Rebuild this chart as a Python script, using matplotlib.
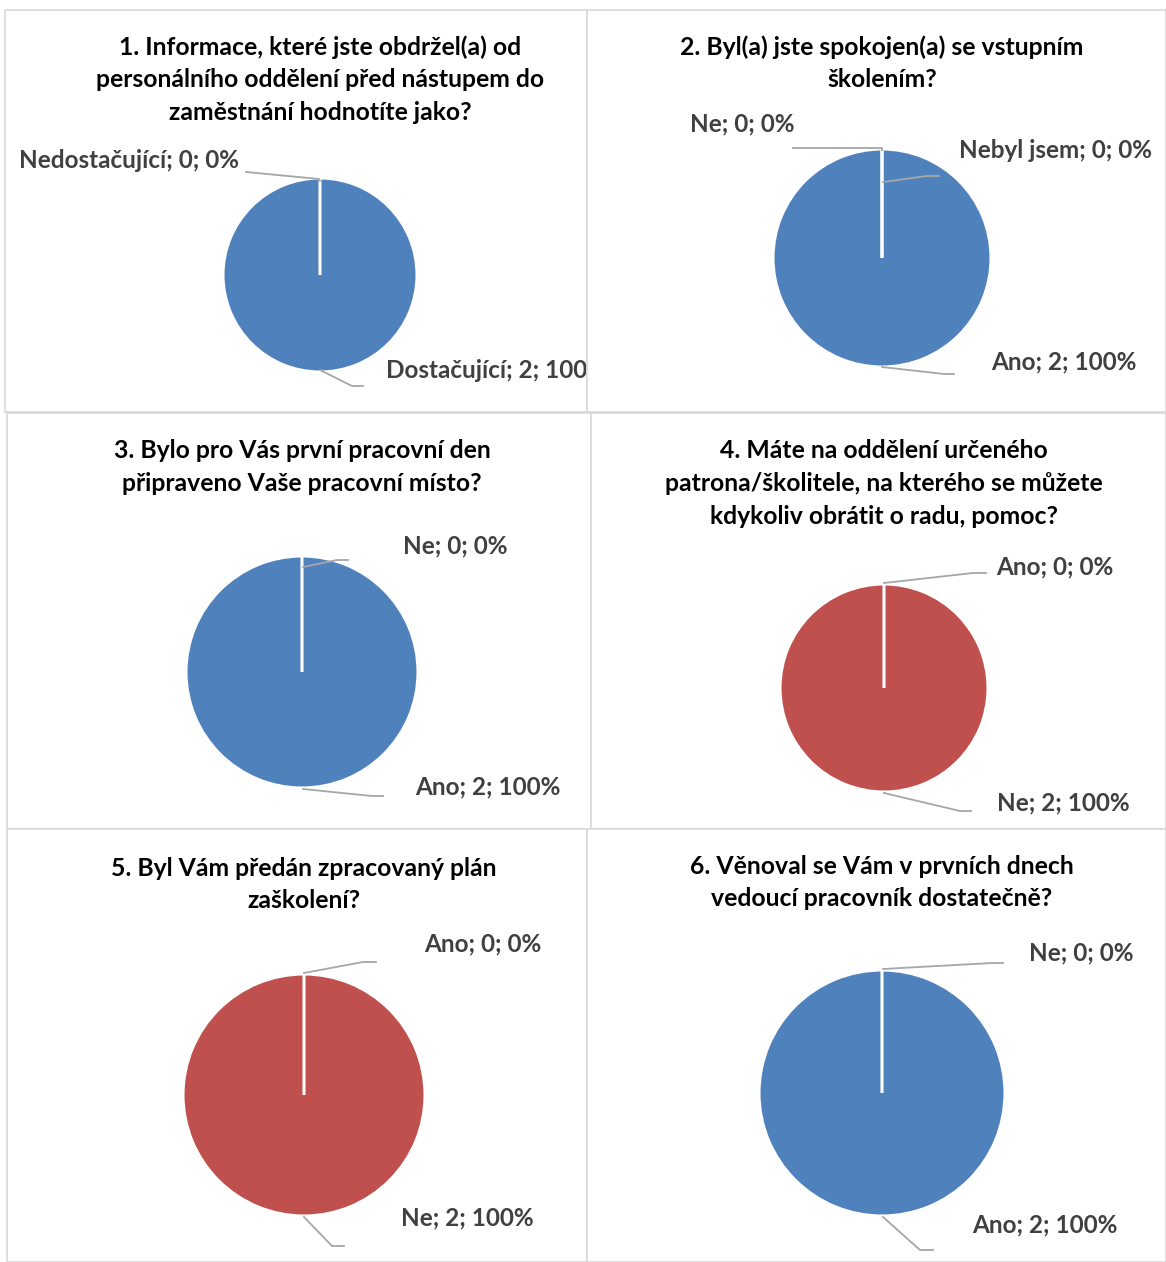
import matplotlib.pyplot as plt
from matplotlib.patches import Rectangle
from matplotlib.transforms import Bbox

plt.rcParams['font.family'] = ['Lato', 'DejaVu Sans']

W, H = 1166, 1262

BLUE = "#4f81bd"
RED = "#c0504d"
LABEL_COLOR = "#404040"
LEADER_COLOR = "#a6a6a6"
BORDER_COLOR = "#d9d9d9"

# survey answers, one list per question
titles = [
    "1. Informace, které jste obdržel(a) od\npersonálního oddělení před nástupem do\nzaměstnání hodnotíte jako?",
    "2. Byl(a) jste spokojen(a) se vstupním\nškolením?",
    "3. Bylo pro Vás první pracovní den\npřipraveno Vaše pracovní místo?",
    "4. Máte na oddělení určeného\npatrona/školitele, na kterého se můžete\nkdykoliv obrátit o radu, pomoc?",
    "5. Byl Vám předán zpracovaný plán\nzaškolení?",
    "6. Věnoval se Vám v prvních dnech\nvedoucí pracovník dostatečně?",
]
q1_cats = ["Dostačující", "Nedostačující"]
q1_vals = [2, 0]
q2_cats = ["Ano", "Ne", "Nebyl jsem"]
q2_vals = [2, 0, 0]
q3_cats = ["Ano", "Ne"]
q3_vals = [2, 0]
q4_cats = ["Ano", "Ne"]
q4_vals = [0, 2]
q5_cats = ["Ano", "Ne"]
q5_vals = [0, 2]
q6_cats = ["Ano", "Ne"]
q6_vals = [2, 0]

# panel box (x0, y0, x1, y1), pie centre/radius, title centre x and first line y,
# and for every category: label position and leader polyline (pixels, y down)
layout = [
    dict(box=(5, 10, 587, 412), center=(320, 275), r=96, title=(320, 47),
         labels={"Nedostačující": ((19, 161), [(320, 181), (319, 179), (246, 172)]),
                 "Dostačující": ((386, 371), [(320, 370), (352, 386), (363, 386)])}),
    dict(box=(587, 10, 1166, 412), center=(882, 258), r=108, title=(882, 47),
         labels={"Ne": ((690, 124), [(882, 150), (882, 148), (793, 148)]),
                 "Nebyl jsem": ((959, 151), [(883, 182), (927, 176), (939, 176)]),
                 "Ano": ((991, 362), [(882, 367), (944, 374), (954, 374)])}),
    dict(box=(7, 413, 591, 829), center=(302, 672), r=115, title=(302, 451),
         labels={"Ne": ((403, 546), [(303, 567), (337, 560), (348, 560)]),
                 "Ano": ((415, 787), [(303, 789), (372, 796), (383, 796)])}),
    dict(box=(591, 413, 1166, 829), center=(884, 688), r=103, title=(884, 451),
         labels={"Ano": ((996, 567), [(884, 583), (973, 573), (986, 573)]),
                 "Ne": ((997, 803), [(884, 793), (960, 811), (971, 811)])}),
    dict(box=(7, 829, 587, 1262), center=(304, 1095), r=120, title=(304, 868),
         labels={"Ano": ((424, 944), [(304, 973), (363, 962), (376, 962)]),
                 "Ne": ((401, 1218), [(304, 1217), (332, 1246), (344, 1246)])}),
    dict(box=(587, 829, 1166, 1262), center=(882, 1093), r=122, title=(882, 866),
         labels={"Ne": ((1029, 953), [(883, 969), (992, 963), (1003, 963)]),
                 "Ano": ((972, 1225), [(883, 1217), (920, 1250), (933, 1250)])}),
]
LINE_PITCH = 32.5

charts = [
    (q1_cats, q1_vals), (q2_cats, q2_vals), (q3_cats, q3_vals),
    (q4_cats, q4_vals), (q5_cats, q5_vals), (q6_cats, q6_vals),
]
palette = [BLUE, RED, "#9bbb59"]

fig = plt.figure(figsize=(W / 100, H / 100), dpi=100)
ax = fig.add_axes([0, 0, 1, 1])

for title, (cats, vals), lay in zip(titles, charts, layout):
    x0, y0, x1, y1 = lay["box"]
    panel = Rectangle((x0, y0), x1 - x0, y1 - y0, facecolor="white",
                      edgecolor=BORDER_COLOR, linewidth=1.2, zorder=0)
    ax.add_patch(panel)
    # the same box in display pixels (origin bottom left) for clipping labels
    clip = Bbox.from_extents(x0, H - y1, x1 - 1, H - y0)

    # y axis points down, so start at -90 and go "counterclockwise" in data
    # space, which reads clockwise from twelve o'clock on the page
    wedges, _ = ax.pie(vals, colors=palette[:len(vals)], center=lay["center"],
                       radius=lay["r"] + 1, startangle=-90, counterclock=True,
                       frame=True, wedgeprops=dict(edgecolor="white", linewidth=2.2))
    # empty slices only show as their white edge, keep it above the full slice
    for w, v in zip(wedges, vals):
        if v == 0:
            w.set_zorder(2)

    tx, ty = lay["title"]
    for i, line in enumerate(title.split("\n")):
        ax.text(tx, ty + i * LINE_PITCH, line, ha="center", va="center",
                fontsize=17.8, fontweight="bold", color="black")

    total = sum(vals)
    for cat, val in zip(cats, vals):
        (lx, ly), leader = lay["labels"][cat]
        xs = [p[0] for p in leader]
        ys = [p[1] for p in leader]
        ax.plot(xs, ys, color=LEADER_COLOR, linewidth=1.3, zorder=3)
        pct = round(100 * val / total)
        t = ax.text(lx, ly, f"{cat}; {val}; {pct}%", ha="left", va="center",
                    fontsize=17.5, fontweight="bold", color=LABEL_COLOR)
        t.set_clip_box(clip)
        t.set_clip_on(True)

ax.set_xlim(0, W)
ax.set_ylim(H, 0)
ax.set_aspect("auto")
ax.axis("off")

fig.savefig("out.png", dpi=100)
